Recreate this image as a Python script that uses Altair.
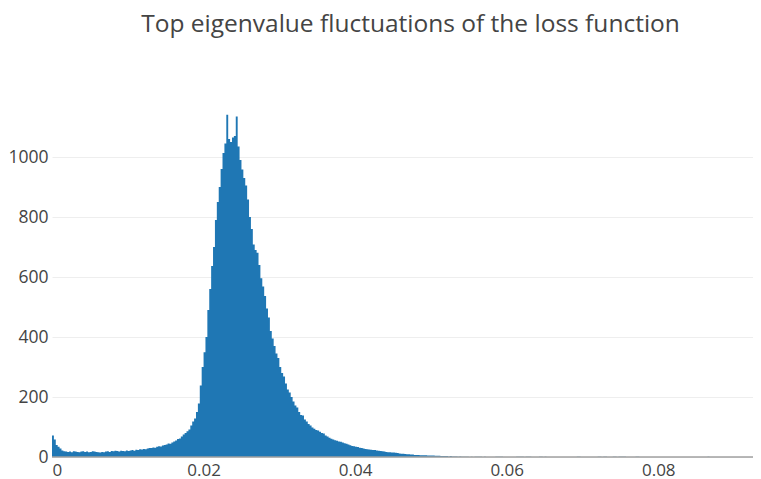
import altair as alt
import pandas as pd

BIN_WIDTH = 0.00025

# counts per bin, bins of width 0.00025 starting at 0
counts_left = [  # 0 .. 0.013
    72, 58, 40, 34, 28, 22, 19, 18, 17, 18, 16, 19, 18, 17, 16, 18,
    19, 17, 18, 16, 17, 19, 18, 17, 16, 15, 17, 16, 18, 19, 17, 20,
    19, 21, 20, 18, 21, 20, 19, 22, 20, 22, 23, 21, 24, 23, 26, 25,
    27, 26, 28, 30,
]
counts_rise = [  # 0.013 .. 0.021
    30, 32, 31, 34, 36, 35, 38, 40, 42, 45, 44, 48, 52, 55, 60, 62,
    68, 75, 80, 86, 92, 105, 118, 128, 150, 178, 238, 300, 349, 400, 490, 560,
]
counts_peak = [  # 0.021 .. 0.030
    637, 700, 790, 850, 900, 960, 1013, 1045, 1141, 1060, 1050, 1065,
    1070, 1135, 1035, 990, 958, 930, 905, 858, 800, 760, 708, 690,
    681, 640, 596, 568, 537, 495, 465, 420, 395, 370, 345, 330,
]
counts_tail = [  # 0.030 .. 0.055
    300, 280, 268, 245, 225, 215, 200, 185, 172, 165, 150, 140,
    138, 125, 118, 110, 105, 98, 94, 90, 88, 84, 80, 78,
    72, 68, 64, 61, 58, 56, 54, 52, 51, 48, 46, 44,
    42, 39, 37, 36, 34, 33, 31, 30, 28, 27, 26, 25,
    24, 23, 23, 22, 21, 20, 19, 18, 17, 16, 16, 15,
    15, 14, 13, 12, 11, 11, 10, 9, 9, 8, 8, 7,
    7, 7, 6, 6, 6, 6, 5, 5, 5, 5, 4, 4,
    4, 3, 3, 3, 3, 2, 3, 2, 2, 2, 1, 2,
    1, 1, 1, 1,
]
counts_far = [  # 0.055 .. 0.087
    0, 1, 0, 1, 1, 1, 1, 0, 1, 0, 0, 0, 0, 0, 1, 1,
    1, 1, 0, 0, 0, 0, 0, 0, 0, 1, 1, 1, 1, 0, 1, 1,
    1, 0, 0, 0, 0, 1, 1, 0, 1, 0, 0, 0, 0, 0, 0, 0,
    0, 0, 0, 0, 0, 0, 0, 0, 0, 1, 1, 0, 0, 0, 0, 0,
    0, 0, 0, 0, 1, 1, 0, 1, 1, 0, 0, 0, 1, 1, 0, 1,
    1, 1, 1, 0, 0, 0, 0, 0, 1, 1, 0, 0, 0, 0, 0, 0,
    0, 0, 0, 0, 0, 0, 0, 0, 0, 0, 0, 0, 0, 0, 0, 0,
    0, 0, 0, 0, 0, 0, 0, 0, 0, 0, 0, 0, 0, 0, 1, 0,
]

counts = counts_left + counts_rise + counts_peak + counts_tail + counts_far
x_ticks = [0, 0.02, 0.04, 0.06, 0.08]
y_ticks = [0, 200, 400, 600, 800, 1000]

# histogram as a step outline: each bin's count held from its left edge to the next edge
n = len(counts)
df = pd.DataFrame({
    "edge": [i * BIN_WIDTH for i in range(n + 1)],
    "count": counts + [0],
})

FONT = "Open Sans"
COLOR = "#1f77b4"

bars = alt.Chart(df).mark_area(color=COLOR, interpolate="step-after", opacity=1).encode(
    x=alt.X("edge:Q", scale=alt.Scale(domain=[0, 0.0925], nice=False, zero=False),
            axis=alt.Axis(values=x_ticks, format="~g", title=None, grid=False,
                          ticks=False, domain=False, labelPadding=5,
                          labelFontSize=17, labelColor="#444", labelFont=FONT)),
    y=alt.Y("count:Q", scale=alt.Scale(domain=[0, 1200], nice=False),
            axis=alt.Axis(values=y_ticks, format="d", title=None, grid=True,
                          gridColor="#eeeeee", gridWidth=1, ticks=False, domain=False,
                          labelPadding=4, labelFontSize=17.5, labelColor="#444",
                          labelFont=FONT)),
)

zero = alt.Chart(pd.DataFrame({"y": [0]})).mark_rule(color="#a0a0a0", strokeWidth=1.5).encode(
    y="y:Q"
)

chart = alt.layer(bars, zero).properties(
    width=701,
    height=360,
    autosize=alt.AutoSizeParams(type="none"),
    padding={"left": 44, "top": 89, "right": 0, "bottom": 22},
    title=alt.TitleParams(
        "Top eigenvalue fluctuations of the loss function",
        font=FONT, fontSize=24.5, fontWeight="normal", color="#444",
        anchor="middle", dx=8, offset=60,
    ),
).configure_view(stroke=None)

chart.save("out.html", embed_options={"renderer": "svg", "actions": False})
